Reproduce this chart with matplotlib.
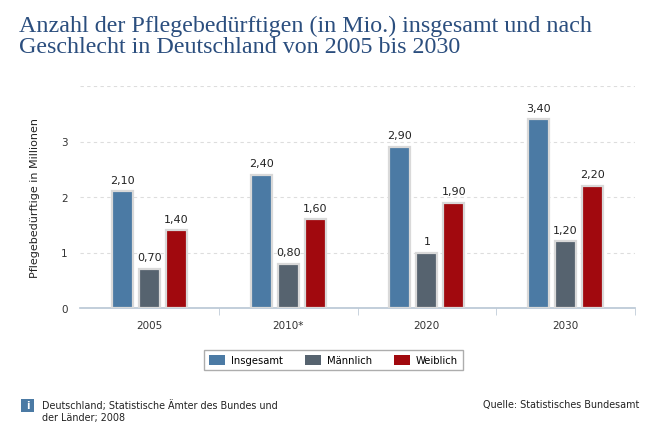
import numpy as np
import matplotlib.pyplot as plt
from matplotlib.patches import Rectangle

# data
jahre = ["2005", "2010*", "2020", "2030"]
insgesamt = [2.1, 2.4, 2.9, 3.4]
maennlich = [0.7, 0.8, 1.0, 1.2]
weiblich = [1.4, 1.6, 1.9, 2.2]
reihen = ["Insgesamt", "Männlich", "Weiblich"]
farben = ["#4b7aa4", "#56636f", "#a1090e"]


def fmt_de(v):
    # German number format, whole 1 stays "1"
    if v == 1:
        return "1"
    return f"{v:.2f}".replace(".", ",")


W, H = 662, 439
fig = plt.figure(figsize=(W / 100, H / 100), dpi=100)
ax = fig.add_axes([80 / W, 1 - 309 / H, 555 / W, 222 / H])

x = np.arange(len(jahre))
breite = 0.152
abstand = 0.195
for i, (werte, farbe) in enumerate(zip([insgesamt, maennlich, weiblich], farben)):
    pos = x + (i - 1) * abstand
    ax.bar(pos, werte, width=breite, color=farbe, edgecolor="#d9d9d9",
           linewidth=1.6, zorder=3, label=reihen[i])
    for p, v in zip(pos, werte):
        ax.text(p, v + 0.12, fmt_de(v), ha="center", va="bottom",
                fontsize=8, color="#222222", zorder=4)

ax.set_xlim(-0.5, len(jahre) - 0.5)
ax.set_ylim(0, 4)
ax.set_yticks([0, 1, 2, 3, 4])
ax.set_yticklabels(["0", "1", "2", "3", ""])
ax.set_xticks(x)
ax.set_xticklabels(jahre)
ax.set_xticks(np.arange(len(jahre)) + 0.5, minor=True)
ax.tick_params(axis="x", which="major", length=0, labelsize=7.5,
               labelcolor="#333333", pad=9)
ax.tick_params(axis="x", which="minor", length=5, color="#c0ccd8")
ax.tick_params(axis="y", length=0, labelsize=7.5, labelcolor="#333333", pad=9)

ax.grid(axis="y", linestyle=(0, (3, 3)), color="#dddddd", linewidth=0.8, zorder=0)
for s in ["top", "right", "left"]:
    ax.spines[s].set_visible(False)
ax.spines["bottom"].set_color("#b8c6d4")
ax.spines["bottom"].set_linewidth(1.2)

ax.set_ylabel("Pflegebedürftige in Millionen", fontsize=8, color="#222222")
ax.yaxis.set_label_coords(-40 / 555, 0.5)

# title, two lines placed by baseline
titel_farbe = "#2b4e7e"
fig.text(19 / W, 1 - 32 / H,
         "Anzahl der Pflegebedürftigen (in Mio.) insgesamt und nach",
         family="Liberation Serif", fontsize=17.3, color=titel_farbe,
         ha="left", va="baseline")
fig.text(19 / W, 1 - 53 / H,
         "Geschlecht in Deutschland von 2005 bis 2030",
         family="Liberation Serif", fontsize=17.3, color=titel_farbe,
         ha="left", va="baseline")

# legend
leg = ax.legend(loc="center", bbox_to_anchor=(333.5 / W, 1 - 361 / H),
                bbox_transform=fig.transFigure, ncol=3, fontsize=7.2,
                frameon=True, fancybox=False, edgecolor="#999999",
                handlelength=1.6, handleheight=1.1, columnspacing=2.2,
                handletextpad=0.6, borderpad=0.5)
leg.get_frame().set_linewidth(1.0)
for h in leg.legend_handles:
    h.set_edgecolor("none")

# footer
fig.patches.append(Rectangle((21 / W, 1 - 413 / H), 13 / W, 13 / H,
                             transform=fig.transFigure,
                             facecolor="#4b7aa4", edgecolor="none"))
fig.text(27.5 / W, 1 - 406.5 / H, "i", color="white", fontsize=7,
         fontweight="bold", ha="center", va="center")
fig.text(42 / W, 1 - 406 / H, "Deutschland; Statistische Ämter des Bundes und",
         fontsize=6.9, color="#222222", ha="left", va="center")
fig.text(42 / W, 1 - 418.5 / H, "der Länder; 2008",
         fontsize=6.9, color="#222222", ha="left", va="center")
fig.text(639 / W, 1 - 405 / H, "Quelle: Statistisches Bundesamt",
         fontsize=6.9, color="#222222", ha="right", va="center")

fig.savefig("out.png", dpi=100)
